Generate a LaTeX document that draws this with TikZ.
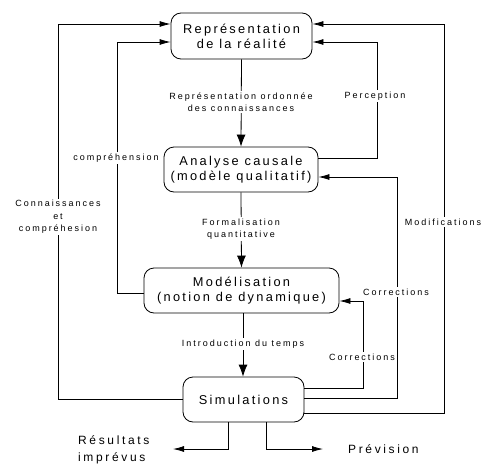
\documentclass[tikz,border=0pt]{standalone}
\usepackage{fontspec}
\setmainfont{Liberation Sans}
\newfontfamily\boxfont[LetterSpace=18]{Liberation Sans}
\newfontfamily\labfont[LetterSpace=22]{Liberation Sans}
\usetikzlibrary{arrows.meta,calc}
\begin{document}
\begin{tikzpicture}[x=1pt,y=-1pt,
  proc/.style={draw,line width=0.8pt,rounded corners=10pt,inner sep=0pt,align=center,
    font=\boxfont\fontsize{12.8}{15}\selectfont},
  lab/.style={fill=white,inner sep=1.5pt,align=center,font=\labfont\fontsize{9}{12.5}\selectfont},
  big/.style={inner sep=0pt,align=left,font=\labfont\fontsize{12}{17}\selectfont},
  conn/.style={line width=0.8pt},
  arr/.style={conn,-{Latex[length=11pt,width=6pt]}},
  varr/.style={conn,-{Latex[length=12pt,width=9pt]}}]
\useasboundingbox (0,0) rectangle (482,471);
\fill[white] (0,0) rectangle (482,471);
% boxes
\node[proc,minimum width=141pt,minimum height=46pt] (b1) at (241.5,36) {Représentation\\de la réalité};
\node[proc,minimum width=154pt,minimum height=45pt] (b2) at (241,169.5) {Analyse causale\\(modèle qualitatif)};
\node[proc,minimum width=195pt,minimum height=45pt] (b3) at (241.5,290.5) {Modélisation\\(notion de dynamique)};
\node[proc,minimum width=121pt,minimum height=45pt] (b4) at (243.5,399.5) {Simulations};
% ports (yshift > 0 moves up on the page)
\coordinate (b1wa) at ([yshift=12pt]b1.west);
\coordinate (b1wb) at ([yshift=-6pt]b1.west);
\coordinate (b1ea) at ([yshift=12pt]b1.east);
\coordinate (b1eb) at ([yshift=-6pt]b1.east);
\coordinate (b2ea) at ([yshift=11.5pt]b2.east);
\coordinate (b2eb) at ([yshift=-7.5pt]b2.east);
\coordinate (b3w) at ([yshift=-2.5pt]b3.west);
\coordinate (b3e) at ([yshift=-10.5pt]b3.east);
\coordinate (b4ea) at ([yshift=11.5pt]b4.east);
\coordinate (b4eb) at ([yshift=1.5pt]b4.east);
\coordinate (b4ec) at ([yshift=-13.5pt]b4.east);
\coordinate (b4sa) at ([xshift=-15.5pt]b4.south);
\coordinate (b4sb) at ([xshift=22.5pt]b4.south);
% guide coordinates
\coordinate (xL) at (58,0);
\coordinate (xI) at (117,0);
\coordinate (xR1) at (444,0);
\coordinate (xR2) at (397,0);
\coordinate (xR3) at (377,0);
\coordinate (xR4) at (363,0);
\coordinate (res) at (173,449);
\coordinate (prev) at (323,449);
% vertical flow
\draw[varr] (b1.south) -- (b2.north);
\draw[varr] ([xshift=1.5pt]b3.south) -- ([xshift=-0.5pt]b4.north);
\draw[varr] (b2.south) -- (b3.north);
% loops
\draw[arr] (b4.west) -| (xL |- b1wa) -- (b1wa);
\draw[arr] (b3w) -| (xI |- b1wb) -- (b1wb);
\draw[arr] (b4ec) -| (xR1 |- b1ea) -- (b1ea);
\draw[arr] (b2ea) -| (xR3 |- b1eb) -- (b1eb);
\draw[arr] (b4eb) -| (xR2 |- b2eb) -- (b2eb);
\draw[arr] (b4ea) -| (xR4 |- b3e) -- (b3e);
% outputs
\draw[arr] (b4sa) |- (res);
\draw[arr] (b4sb) |- (prev);
% labels
\node[lab] (l1) at (241,102) {Représentation ordonnée\\des connaissances};
\node[lab] (l2) at (375,96) {Perception};
\node[lab] (l3) at (116,158) {compréhension};
\node[lab] (l4) at (58,217) {Connaissances\\et\\compréhesion};
\node[lab] (l5) at (443,222) {Modifications};
\node[lab] (l6) at (241,229) {Formalisation\\quantitative};
\node[lab] (l7) at (396,292) {Corrections};
\node[lab] (l8) at (362,357) {Corrections};
\node[lab] (l9) at (243,344) {Introduction du temps};
\node[big,anchor=west] (r1) at (78,450) {Résultats\\imprévus};
\node[big,anchor=west] (r2) at (348,449) {Prévision};
\end{tikzpicture}
\end{document}
